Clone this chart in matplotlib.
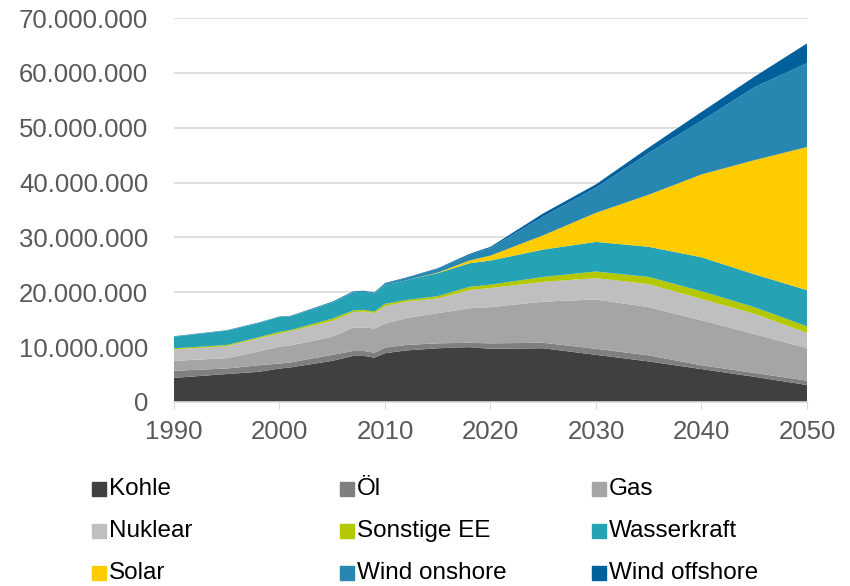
import matplotlib
matplotlib.use("Agg")
import matplotlib.pyplot as plt
from matplotlib.patches import Rectangle
from matplotlib.ticker import FuncFormatter

plt.rcParams['font.family'] = ['Liberation Sans', 'DejaVu Sans']

# Jahre und Werte (in Mio., werden unten mit 1e6 multipliziert)
jahre = [1990, 1995, 1998, 2000, 2001, 2005, 2007, 2008, 2009, 2010,
         2012, 2015, 2018, 2020, 2025, 2030, 2035, 2040, 2045, 2050]

kohle    = [4.4, 5.1, 5.5, 6.1, 6.3, 7.5, 8.4, 8.4, 8.1, 8.9,
            9.4, 9.8, 10.0, 9.7, 9.8, 8.6, 7.4, 6.0, 4.6, 3.1]
oel      = [1.3, 1.0, 1.2, 0.9, 0.9, 1.1, 0.9, 0.9, 0.9, 1.0,
            1.0, 0.9, 0.8, 1.0, 1.0, 1.1, 1.1, 0.7, 0.7, 0.8]
gas      = [1.8, 1.9, 2.5, 3.1, 3.1, 3.3, 4.3, 4.3, 4.4, 4.4,
            4.9, 5.5, 6.3, 6.6, 7.5, 9.0, 8.8, 8.2, 7.1, 5.9]
nuklear  = [2.1, 2.2, 2.4, 2.4, 2.6, 2.9, 2.8, 2.9, 2.8, 3.2,
            3.0, 2.7, 3.3, 3.5, 3.6, 3.9, 4.2, 3.9, 3.7, 2.8]
sonstige = [0.2, 0.2, 0.2, 0.3, 0.2, 0.4, 0.3, 0.3, 0.3, 0.4,
            0.3, 0.4, 0.6, 0.6, 0.9, 1.2, 1.3, 1.4, 1.2, 1.2]
wasser   = [2.1, 2.6, 2.6, 2.7, 2.5, 2.9, 3.3, 3.3, 3.3, 3.4,
            3.6, 4.2, 4.3, 4.4, 5.0, 5.4, 5.5, 6.2, 6.0, 6.6]
solar    = [0.0, 0.0, 0.0, 0.0, 0.0, 0.0, 0.0, 0.0, 0.0, 0.0,
            0.0, 0.1, 0.5, 0.9, 2.6, 5.3, 9.5, 15.1, 20.8, 26.1]
onshore  = [0.1, 0.1, 0.1, 0.1, 0.1, 0.2, 0.2, 0.2, 0.2, 0.3,
            0.4, 0.7, 1.0, 1.4, 3.4, 4.6, 7.6, 9.8, 13.3, 15.3]
offshore = [0.0, 0.0, 0.0, 0.0, 0.0, 0.0, 0.0, 0.0, 0.0, 0.1,
            0.1, 0.1, 0.2, 0.2, 0.6, 0.6, 1.0, 1.6, 1.9, 3.6]

namen = ["Kohle", "Öl", "Gas", "Nuklear", "Sonstige EE", "Wasserkraft",
         "Solar", "Wind onshore", "Wind offshore"]
farben = ["#404040", "#7f7f7f", "#a5a5a5", "#bfbfbf", "#b4c800", "#25a3b5",
          "#ffcc00", "#2787b0", "#00609c"]

reihen = [kohle, oel, gas, nuklear, sonstige, wasser, solar, onshore, offshore]
reihen = [[v * 1e6 for v in r] for r in reihen]

fig = plt.figure(figsize=(8.5, 5.86), dpi=100)
ax = fig.add_axes([0.2047, 0.314, 0.7447, 0.655])

ax.stackplot(jahre, *reihen, colors=farben, linewidth=0)

ax.set_xlim(1990, 2050)
ax.set_ylim(0, 70e6)
ax.set_xticks(range(1990, 2051, 10))
ax.set_yticks(range(0, 70000001, 10000000))
ax.yaxis.set_major_formatter(FuncFormatter(lambda v, p: f"{int(v):,}".replace(",", ".")))

ax.grid(axis="y", color="#d9d9d9", linewidth=1.2)
ax.set_axisbelow(True)
for s in ["top", "right", "left"]:
    ax.spines[s].set_visible(False)
ax.spines["bottom"].set_color("#d9d9d9")
ax.spines["bottom"].set_linewidth(1.2)
ax.tick_params(axis="y", length=0, labelsize=18.5, labelcolor="#595959", pad=18.5)
ax.tick_params(axis="x", length=5, color="#d9d9d9", labelsize=18.5, labelcolor="#595959", pad=8)

# Legende (3 Spalten)
spalten_x = [92, 340, 592]
zeilen_y = [489, 531, 573]
for i, (name, farbe) in enumerate(zip(namen, farben)):
    x = spalten_x[i % 3]
    y = zeilen_y[i // 3]
    fig.add_artist(Rectangle((x / 850, 1 - (y + 7) / 586), 14 / 850, 14 / 586,
                             transform=fig.transFigure, color=farbe))
    fig.text((x + 17) / 850, 1 - y / 586, name, fontsize=17.5, color="#000000",
             va="center", ha="left")

fig.savefig("out.png", dpi=100)
